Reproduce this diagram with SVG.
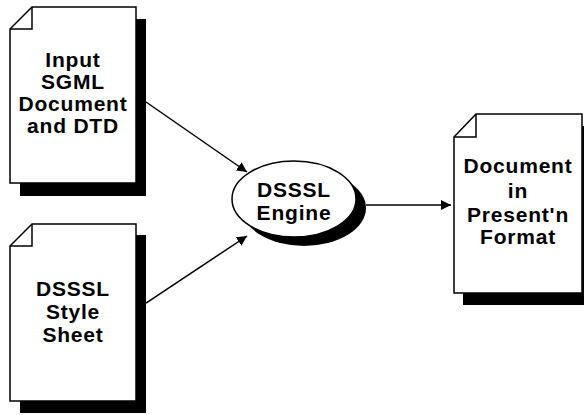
<svg xmlns="http://www.w3.org/2000/svg" width="584" height="415" viewBox="0 0 584 415">
<style>
.page{fill:#fff;stroke:#000;stroke-width:1.5}
.fold{fill:none;stroke:#000;stroke-width:1.5}
.shadow{fill:#000}
.t{font-family:"Liberation Sans",Arial,sans-serif;font-weight:bold;font-size:21px;text-anchor:middle;fill:#000;letter-spacing:0.8px}
.conn{stroke:#000;stroke-width:1.5;fill:none}
</style>
<defs>
<marker id="ah" viewBox="0 0 10 10" refX="10" refY="5" markerWidth="10" markerHeight="10" markerUnits="userSpaceOnUse" orient="auto">
<path d="M0,0 L10,5 L0,10 Z" fill="#000"/>
</marker>
</defs>
<rect width="584" height="415" fill="#fff"/>
<g id="input-doc">
<rect class="shadow" x="20" y="19" width="126" height="177"/>
<path class="page" d="M32,7 L136,7 L136,183 L10,183 L10,29 Z"/>
<path class="fold" d="M32,7 L32,29 L10,29"/>
<text class="t" x="73" y="67">Input</text>
<text class="t" x="73" y="89">SGML</text>
<text class="t" x="73" y="111">Document</text>
<text class="t" x="73" y="133">and DTD</text>
</g>
<g id="style-doc">
<rect class="shadow" x="20" y="235" width="126" height="178"/>
<path class="page" d="M32,224 L136,224 L136,401 L10,401 L10,246 Z"/>
<path class="fold" d="M32,224 L32,246 L10,246"/>
<text class="t" x="73" y="296">DSSSL</text>
<text class="t" x="73" y="319">Style</text>
<text class="t" x="73" y="342">Sheet</text>
</g>
<g id="engine">
<ellipse class="shadow" cx="304" cy="208" rx="62" ry="38"/>
<ellipse class="page" cx="294" cy="199" rx="62" ry="38"/>
<text class="t" x="294" y="197">DSSSL</text>
<text class="t" x="294" y="220">Engine</text>
</g>
<g id="output-doc">
<rect class="shadow" x="463" y="126" width="128" height="179"/>
<path class="page" d="M476,114 L582,114 L582,293 L454,293 L454,137 Z"/>
<path class="fold" d="M476,114 L476,137 L454,137"/>
<text class="t" x="518" y="173">Document</text>
<text class="t" x="518" y="198">in</text>
<text class="t" x="518" y="222">Present'n</text>
<text class="t" x="518" y="244">Format</text>
</g>
<g id="connectors">
<line class="conn" x1="146" y1="102" x2="247" y2="172" marker-end="url(#ah)"/>
<line class="conn" x1="146" y1="303" x2="247" y2="236" marker-end="url(#ah)"/>
<line class="conn" x1="366" y1="205" x2="451" y2="205" marker-end="url(#ah)"/>
</g>
</svg>
